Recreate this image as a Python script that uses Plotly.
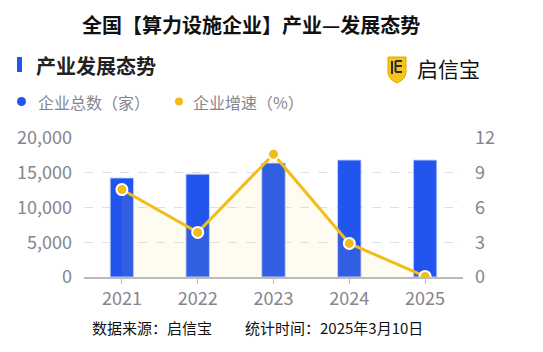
import plotly.graph_objects as go

years = ["2021", "2022", "2023", "2024", "2025"]
companies = [14250, 14800, 16400, 16830, 16830]
growth = [7.55, 3.85, 10.6, 2.9, 0.05]
left_ticks = [0, 5000, 10000, 15000, 20000]
right_ticks = [0, 3, 6, 9, 12]

FONT = "Noto Sans CJK SC"
BLUE = "#2255EE"
GOLD = "#F0BD1A"
GRAY = "#858590"

W, H = 543, 352
L, R, T, B = 84, 80, 138, 75

def ypx(py):
    return (H - B - py) / (H - T - B)

def xpx(px):
    return (px - L) / (W - L - R)

fig = go.Figure()
fig.add_trace(go.Bar(x=years, y=companies,
                     marker=dict(color=BLUE, line=dict(width=1, color="rgba(200,215,255,0.9)")),
                     width=0.31, name="企业总数（家）", yaxis="y"))
fig.add_trace(go.Scatter(x=years, y=growth, mode="lines+markers", name="企业增速（%）",
                         line=dict(color=GOLD, width=3),
                         marker=dict(size=11, color=GOLD, line=dict(color="white", width=2)),
                         fill="tozeroy", fillcolor="rgba(240,200,80,0.08)", yaxis="y2"))

fig.update_layout(
    width=W, height=H, margin=dict(l=L, r=R, t=T, b=B),
    paper_bgcolor="white", plot_bgcolor="white", showlegend=False,
    font=dict(family=FONT, color=GRAY),
    xaxis=dict(type="category", range=[-0.5, 4.5], showgrid=False,
               showline=True, linecolor="#BBBBBB", linewidth=1.5,
               ticks="outside", ticklen=5, tickcolor="#BBBBBB",
               tickfont=dict(size=18, color=GRAY, family=FONT)),
    yaxis=dict(range=[0, 20000], tickvals=left_ticks, tickformat=",",
               showgrid=True, gridcolor="#E0E0E0", griddash="dash", gridwidth=1,
               zeroline=False, showline=False, ticks="", ticklabelstandoff=11,
               tickfont=dict(size=18, color=GRAY, family=FONT)),
    yaxis2=dict(range=[0, 12], tickvals=right_ticks, overlaying="y", side="right",
                showgrid=False, zeroline=False, showline=False, ticklabelstandoff=11,
                tickfont=dict(size=18, color=GRAY, family=FONT)),
)

def ann(text, x, y, size, color, xanchor="left", family=FONT):
    fig.add_annotation(text=text, x=xpx(x), y=ypx(y), xref="paper", yref="paper",
                       showarrow=False, xanchor=xanchor, yanchor="middle",
                       font=dict(size=size, color=color, family=family))

# title
ann("<b>全国【算力设施企业】产业—发展态势</b>", 251, 24, 20, "#111111", xanchor="center")
# subtitle
ann("<b>产业发展态势</b>", 34, 66, 20, "#222222")
fig.add_shape(type="rect", xref="paper", yref="paper", x0=xpx(17), x1=xpx(22), y0=ypx(57), y1=ypx(72),
              fillcolor=BLUE, line=dict(width=0))

# logo shield
def P(x, y):
    return f"{xpx(x)},{ypx(y)}"
fig.add_shape(type="path", xref="paper", yref="paper",
              path=f"M{P(388,57)} L{P(406,57)} L{P(406,72)} Q{P(406,79)} {P(397,83)} Q{P(388,79)} {P(388,72)} Z",
              fillcolor="#F5C518", line=dict(color="#E0A800", width=1))
for (x0, y0, x1, y1) in [(392, 61, 392, 74), (395.5, 61, 402, 61), (395.5, 61, 395.5, 72),
                         (395.5, 66, 402, 66), (395.5, 72, 402, 72)]:
    fig.add_shape(type="line", xref="paper", yref="paper", x0=xpx(x0), y0=ypx(y0), x1=xpx(x1), y1=ypx(y1),
                  line=dict(color="#2A2A2A", width=2))
ann("启信宝", 415, 68, 21, "#111111")

# legend
fig.add_shape(type="circle", xref="paper", yref="paper", x0=xpx(17), x1=xpx(26), y0=ypx(97), y1=ypx(106),
              fillcolor=BLUE, line=dict(width=0))
ann("企业总数（家）", 36, 102, 16, GRAY)
fig.add_shape(type="circle", xref="paper", yref="paper", x0=xpx(175), x1=xpx(183), y0=ypx(97.5), y1=ypx(105.5),
              fillcolor=GOLD, line=dict(width=0))
ann("企业增速（%）", 191, 102, 16, GRAY)

# footer
ann("数据来源：启信宝", 90, 327, 15, "#111111")
ann("统计时间：2025年3月10日", 243, 327, 15, "#111111")

fig.write_html("out.html")
